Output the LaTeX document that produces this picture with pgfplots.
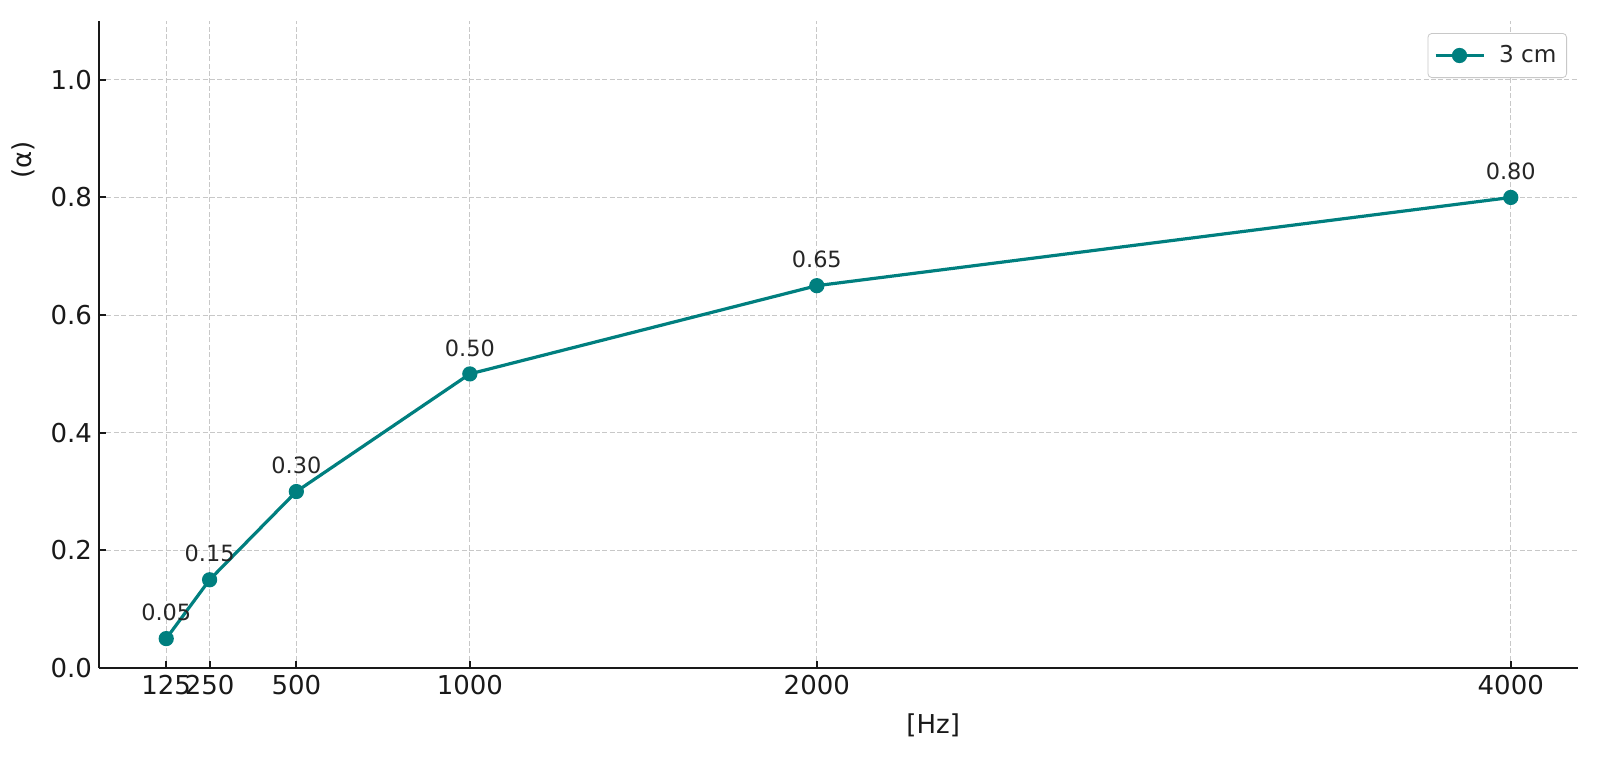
\documentclass[border=0pt]{standalone}
\usepackage{pgfplots}
\pgfplotsset{compat=1.18}
\usepackage{fontspec}
\setmainfont{DejaVu Sans}
\definecolor{tealc}{HTML}{007F7F}
\definecolor{gridc}{HTML}{C8C8C8}
\definecolor{txt}{HTML}{262626}
\begin{document}
\begin{tikzpicture}
\path[use as bounding box] (-49.5pt,-47pt) rectangle (750.5pt,334pt);
\begin{axis}[
  at={(0pt,0pt)}, anchor=south west,
  scale only axis, width=739.5pt, height=323.5pt,
  xmin=-68.75, xmax=4193.75, ymin=0, ymax=1.1,
  axis x line*=bottom, axis y line*=left,
  axis line style={-, line width=1.1pt, black!90},
  tick align=inside,
  major tick length=3.5pt,
  every tick/.style={black!90, line width=1pt},
  xtick={125,250,500,1000,2000,4000},
  xticklabels={125,250,500,1000,2000,4000},
  ytick={0,0.2,0.4,0.6,0.8,1.0},
  yticklabels={0.0,0.2,0.4,0.6,0.8,1.0},
  ticklabel style={font=\fontsize{13}{15}\selectfont, text=black!90},
  grid=major,
  major grid style={gridc, line width=0.5pt, dash pattern=on 2.5pt off 1.2pt},
  xlabel={[Hz]},
  ylabel={(α)},
  every axis x label/.style={at={(axis description cs:0.564,-0.0881)}, anchor=center, font=\fontsize{13}{15}\selectfont, text=black!90},
  every axis y label/.style={at={(axis description cs:-0.0514,0.785)}, anchor=center, rotate=90, font=\fontsize{13}{15}\selectfont, text=black!90},
  legend style={at={(rel axis cs:1,1)}, anchor=north east, xshift=-5.5pt, yshift=-6pt,
    draw=gridc, rounded corners=2pt, fill=white,
    font=\fontsize{11.6}{13}\selectfont, text=txt,
    inner xsep=3pt, inner ysep=4pt},
  legend image code/.code={
    \draw[#1, mark=none] (0pt,0pt) -- (24pt,0pt);
    \draw[#1, only marks] plot coordinates {(12pt,0pt)};
  },
  legend cell align=left,
  clip=false,
]
\addplot[tealc, line width=1.6pt, mark=*, mark size=3pt, mark options={solid, fill=tealc, draw=tealc},
  nodes near coords={\pgfmathprintnumber[fixed,fixed zerofill,precision=2,assume math mode=true]{\pgfplotspointmeta}},
  point meta=y,
  every node near coord/.style={anchor=center, yshift=13pt, font=\fontsize{11.2}{13}\selectfont, text=txt},
] coordinates {
  (125,0.05) (250,0.15) (500,0.30) (1000,0.50) (2000,0.65) (4000,0.80)
};
\addlegendentry{\hspace{5pt}3 cm}
\end{axis}
\end{tikzpicture}
\end{document}
